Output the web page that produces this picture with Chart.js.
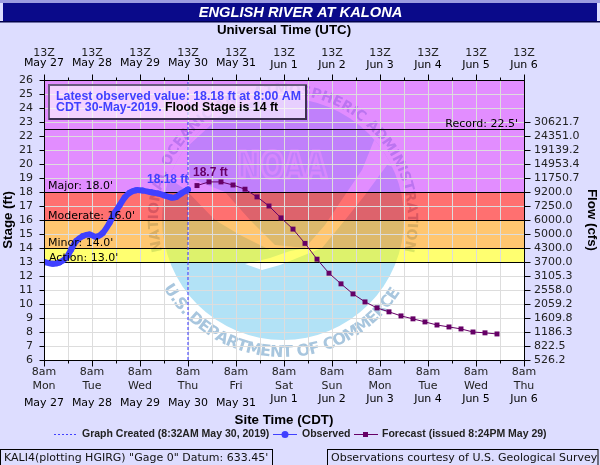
<!DOCTYPE html>
<html><head><meta charset="utf-8">
<style>html,body{margin:0;padding:0;background:#ddddff}canvas{display:block}</style>
<script src="https://cdn.jsdelivr.net/npm/chart.js@4/dist/chart.umd.min.js"></script>
</head><body><canvas id="c" width="600" height="465"></canvas>
<script>
const titleText = 'ENGLISH RIVER AT KALONA';
const obsHours = [0,4.4,7.7,11.1,13.6,16.1,19.4,22.8,26.1,29.4,32.8,35.3,37.8,40.3,42.8,46.1,49.4,53.6,56.9,60.3,63.6,66.1,68.6,71.1,72];
const obsStage = [13.0,12.87,12.96,13.3,13.9,14.5,14.85,14.97,14.8,15.08,15.8,16.5,17.05,17.6,17.95,18.13,18.1,17.98,17.9,17.75,17.6,17.65,17.9,18.1,18.18];
const fcstHours = [76.5,82.5,88.5,94.5,100.5,106.5,112.5,118.5,124.5,130.5,136.5,142.5,148.5,154.5,160.5,166.5,172.5,178.5,184.5,190.5,196.5,202.5,208.5,214.5,220.5,226.5];
const fcstStage = [18.46,18.72,18.72,18.5,18.2,17.65,17.0,16.15,15.35,14.33,13.2,12.2,11.44,10.72,10.15,9.72,9.44,9.15,8.94,8.72,8.5,8.36,8.22,8.0,7.94,7.86];
const createdHour = [72,72];
const createdStage = [6,26];
const weekdays = ['Mon','Tue','Wed','Thu','Fri','Sat','Sun','Mon','Tue','Wed','Thu'];
const dates = ['May 27','May 28','May 29','May 30','May 31','Jun 1','Jun 2','Jun 3','Jun 4','Jun 5','Jun 6'];
const flowLabels = ['526.2','822.5','1186.3','1609.8','2059.2','2558.0','3105.3','3700.0','4300.0','5000.0','6000.0','7250.0','9200.0','11750.7','14953.4','19139.2','24351.0','30621.7'];
const bandEdges = [26,18,16,14,13];
const bandColors = ['rgba(204,51,255,.56)','rgba(255,0,0,.56)','rgba(255,153,0,.56)','rgba(255,255,0,.56)'];
const stageLines = [22.5,18,16,14,13];
const stageLineText = ["Record: 22.5'","Major: 18.0'","Moderate: 16.0'","Minor: 14.0'","Action: 13.0'"];

const FONT = '"DejaVu Sans"';
const BG = '#ddddff', BLUE='#4040ff', PURPLE='#660066';
const tickFont = {family:'DejaVu Sans',size:11,lineHeight:'14px'};

function poly(ctx,p){ctx.beginPath();p.forEach((q,i)=>i?ctx.lineTo(q[0],q[1]):ctx.moveTo(q[0],q[1]));ctx.closePath();ctx.fill();}
function arcText(ctx,t,cx,cy,r,a0,a1,flip){
  const w=[...t].map(c=>ctx.measureText(c).width), tot=w.reduce((a,b)=>a+b,0);
  let acc=0;
  [...t].forEach((c,i)=>{
    const a=a0+(a1-a0)*(acc+w[i]/2)/tot; acc+=w[i];
    ctx.save();ctx.translate(cx+r*Math.cos(a),cy+r*Math.sin(a));
    ctx.rotate(flip?a-Math.PI/2:a+Math.PI/2);
    ctx.fillText(c,0,0);ctx.restore();
  });
}
function drawLogo(ctx,a){
  const cx=283,cy=219,R=121,D=Math.PI/180;
  ctx.save();ctx.beginPath();ctx.rect(a.left,a.top,a.right-a.left,a.bottom-a.top);ctx.clip();
  ctx.save();ctx.beginPath();ctx.arc(cx,cy,R,0,7);ctx.clip();
  ctx.fillStyle='#b2e2f6';ctx.fillRect(cx-R,cy-R,2*R,2*R);
  ctx.fillStyle='#fff';
  poly(ctx,[[150,95],[213,123],[188,146],[190,178],[225,192],[250,220],[275,245],[305,248],[270,250],[240,235],[215,220],[186,190],[150,165]]);
  poly(ctx,[[375,138],[362,170],[345,195],[325,225],[305,248],[312,252],[322,248],[345,220],[365,195],[387,165],[420,175],[420,120]]);
  poly(ctx,[[245,264],[270,258],[290,251],[312,247],[312,252],[280,265],[262,270]]);
  ctx.restore();
  ctx.textAlign='center';ctx.textBaseline='alphabetic';
  ctx.save();ctx.font='bold 36px '+FONT;
  const m=ctx.measureText('NOAA').width;
  ctx.translate(282,178);ctx.scale(90/m,28/26.5);
  ctx.lineWidth=3;ctx.strokeStyle='#e4f4fb';ctx.strokeText('NOAA',0,0);ctx.restore();
  ctx.fillStyle='#a8c6de';ctx.font='bold 14px '+FONT;
  arcText(ctx,'NATIONAL OCEANIC AND ATMOSPHERIC ADMINISTRATION',cx,cy,125,165*D,375*D,false);
  ctx.font='bold 16px '+FONT;
  arcText(ctx,'U.S. DEPARTMENT OF COMMERCE',cx,cy,138,150*D,32*D,true);
  ctx.restore();
}
const paint = {
  id:'paint',
  beforeDraw(ch){
    const c=ch.ctx,a=ch.chartArea,y=ch.scales.y;
    c.save();
    c.fillStyle=BG;c.fillRect(0,0,600,465);
    c.fillStyle='#9c9ce0';c.fillRect(0,0,600,3);
    c.fillStyle='#0a0a8a';c.fillRect(3,3,594,18);
    c.fillStyle='#00004c';c.fillRect(0,21,600,1.5);
    c.fillStyle='#fff';c.font='italic bold 14.7px "Liberation Sans"';c.textAlign='center';c.textBaseline='middle';
    c.fillText(titleText,300.5,13);
    c.fillStyle='#fff';c.fillRect(a.left,a.top,a.right-a.left,a.bottom-a.top);
    drawLogo(c,a);
    bandColors.forEach((col,i)=>{
      const t=y.getPixelForValue(bandEdges[i]),b=y.getPixelForValue(bandEdges[i+1]);
      c.fillStyle=col;c.fillRect(a.left,t,a.right-a.left,b-t);
    });
    c.restore();
  },
  beforeDatasetsDraw(ch){
    const c=ch.ctx,a=ch.chartArea,y=ch.scales.y;
    c.save();c.strokeStyle='#000';c.lineWidth=1;
    stageLines.forEach(v=>{const p=Math.round(y.getPixelForValue(v))+.5;c.beginPath();c.moveTo(a.left,p);c.lineTo(a.right,p);c.stroke();});
    c.restore();
  },
  afterDraw(ch){
    const c=ch.ctx,a=ch.chartArea,x=ch.scales.x,y=ch.scales.y;
    c.save();
    const L=a.left+.5,R=a.right+.5,T=a.top+.5,B=a.bottom+.5;
    c.strokeStyle='#000';c.lineWidth=1;c.strokeRect(L,T,R-L,B-T);
    c.beginPath();
    x.ticks.forEach(t=>{const p=Math.round(x.getPixelForValue(t.value))+.5,l=t.value%24===0?6:3;
      c.moveTo(p,T);c.lineTo(p,T-l);c.moveTo(p,B);c.lineTo(p,B+l);});
    y.ticks.forEach(t=>{const p=Math.round(y.getPixelForValue(t.value))+.5;
      c.moveTo(L,p);c.lineTo(L-5,p);
      if(t.value<=23){c.moveTo(R,p);c.lineTo(R+6,p);}});
    c.stroke();
    // threshold labels
    c.fillStyle='#000';c.font='11px '+FONT;c.textBaseline='middle';c.textAlign='left';
    const ty=[124,186,216,243.5,258],tx=[0,48,48,48,49];
    stageLineText.forEach((s,i)=>{
      if(i===0){c.textAlign='right';c.fillText(s,518,ty[0]);c.textAlign='left';}
      else c.fillText(s,tx[i],ty[i]);
    });
    // second lines of the time axes
    c.textAlign='center';
    dates.forEach((d,i)=>{
      const p=x.getPixelForValue(i*24),jun=d.startsWith('Jun');
      c.fillText(d,p,jun?65:63);
      c.fillText(d,p,jun?399:403);
    });
    // value labels
    c.font='bold 12px "Liberation Sans"';
    c.fillStyle=BLUE;c.textAlign='left';c.fillText(obsStage[obsStage.length-1].toFixed(2)+' ft',147,180);
    c.fillStyle=PURPLE;c.fillText('18.7 ft',193,173);
    // info box
    c.fillStyle='rgba(255,255,255,.62)';c.fillRect(48,85,259,35);
    c.strokeStyle='#6a5a80';c.lineWidth=2;c.strokeRect(49,85,257,34);
    c.strokeStyle='#3c3050';c.beginPath();c.moveTo(306,85);c.lineTo(306,119);c.lineTo(49,119);c.stroke();
    c.font='bold 12.35px "Liberation Sans"';
    c.fillStyle=BLUE;c.fillText('Latest observed value: 18.18 ft at 8:00 AM',56,96.5);
    c.fillText('CDT 30-May-2019.',56,107.5);
    c.fillStyle='#000';c.fillText('Flood Stage is 14 ft',165,107.5);
    // legend
    c.lineWidth=1;c.strokeStyle=BLUE;c.setLineDash([2,2]);c.beginPath();c.moveTo(54,434.5);c.lineTo(76,434.5);c.stroke();c.setLineDash([]);
    c.beginPath();c.moveTo(273,434.5);c.lineTo(297,434.5);c.stroke();
    c.fillStyle=BLUE;c.beginPath();c.arc(285,434.5,3.5,0,7);c.fill();
    c.strokeStyle=PURPLE;c.beginPath();c.moveTo(354,434.5);c.lineTo(378,434.5);c.stroke();
    c.fillStyle=PURPLE;c.fillRect(363,432,5,5);
    c.fillStyle='#222';c.font='bold 10.5px "Liberation Sans"';
    c.fillText('Graph Created (8:32AM May 30, 2019)',82,434.5);
    c.fillText('Observed',302,434.5);
    c.fillText('Forecast (issued 8:24PM May 29)',382,434.5);
    // footer
    c.strokeStyle='#000';c.strokeRect(.5,449.5,272,20);c.strokeRect(327.5,449.5,270.5,20);
    c.fillStyle='#111';c.font='11px '+FONT;
    c.fillText('KALI4(plotting HGIRG) "Gage 0" Datum: 633.45\'',4,458);
    c.fillText('Observations courtesy of U.S. Geological Survey',331,458);
    c.restore();
  }
};
const titleFont={family:'Liberation Sans',size:13.3,weight:'bold',lineHeight:'16px'};
new Chart(document.getElementById('c'),{
  type:'line',
  plugins:[paint],
  data:{datasets:[
    {label:'Graph Created (8:32AM May 30, 2019)',data:createdHour.map((h,i)=>({x:h,y:createdStage[i]})),borderColor:'#3333ff',borderWidth:1,borderDash:[3,2],pointRadius:0,order:3},
    {label:'Forecast (issued 8:24PM May 29)',data:fcstHours.map((h,i)=>({x:h,y:fcstStage[i]})),borderColor:PURPLE,backgroundColor:PURPLE,borderWidth:1,pointStyle:'rect',pointRadius:3.5,pointBorderWidth:0,order:2},
    {label:'Observed',data:obsHours.map((h,i)=>({x:h,y:obsStage[i]})),borderColor:BLUE,backgroundColor:BLUE,borderWidth:6,pointRadius:3,pointBorderWidth:0,tension:.3,borderCapStyle:'round',borderJoinStyle:'round',order:1}
  ]},
  options:{
    responsive:false,animation:false,devicePixelRatio:1,
    layout:{padding:0},
    plugins:{legend:{display:false},tooltip:{enabled:false}},
    scales:{
      x:{type:'linear',position:'bottom',min:0,max:240,
        afterFit(s){s.height=105;},
        ticks:{stepSize:12,autoSkip:false,maxRotation:0,font:tickFont,color:'#222',padding:5,
          callback:v=>v%24===0?['8am',weekdays[v/24]]:''},
        grid:{color:'#dddddd',lineWidth:1,drawTicks:false},border:{display:false},
        title:{display:true,text:'Site Time (CDT)',font:titleFont,color:'#000',padding:{top:0,bottom:37}}},
      x2:{type:'linear',position:'top',min:0,max:240,
        afterFit(s){s.height=80;},
        ticks:{stepSize:12,autoSkip:false,maxRotation:0,font:tickFont,color:'#222',padding:20,
          callback:v=>v%24===0?'13Z':''},
        grid:{display:false,drawTicks:false},border:{display:false},
        title:{display:true,text:'Universal Time (UTC)',font:titleFont,color:'#000',padding:{top:22,bottom:0}}},
      y:{type:'linear',position:'left',min:6,max:26,
        afterFit(s){s.width=44;},
        ticks:{stepSize:1,autoSkip:false,font:tickFont,color:'#222',padding:11},
        grid:{color:'#dddddd',lineWidth:1,drawTicks:false},border:{display:false},
        title:{display:true,text:'Stage (ft)',font:titleFont,color:'#000',padding:{top:0,bottom:0}}},
      y2:{type:'linear',position:'right',min:6,max:26,
        afterFit(s){s.width=76;},
        ticks:{stepSize:1,autoSkip:false,font:tickFont,color:'#222',padding:10,
          callback:v=>v<=23?flowLabels[v-6]:''},
        grid:{display:false,drawTicks:false},border:{display:false},
        title:{display:true,text:'Flow (cfs)',font:titleFont,color:'#000',padding:{top:0,bottom:0}}}
    }
  }
});
</script></body></html>
